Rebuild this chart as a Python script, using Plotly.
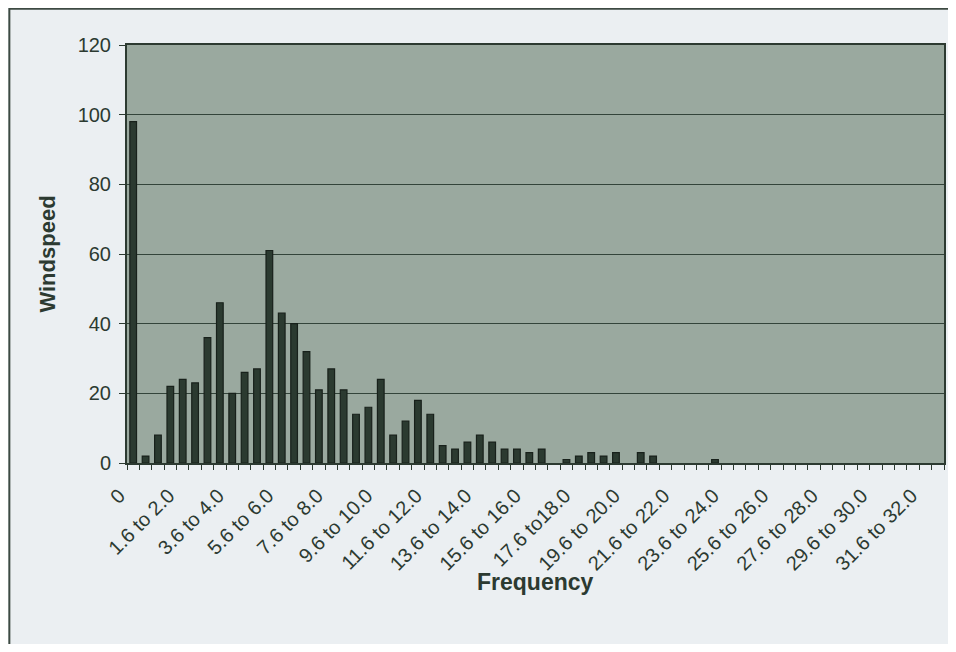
import plotly.graph_objects as go

# wind speed bins (x axis categories)
categories = [
    "0", "0.1 to 0.5", "0.6 to 1.0", "1.1 to 1.5", "1.6 to 2.0",
    "2.1 to 2.5", "2.6 to 3.0", "3.1 to 3.5", "3.6 to 4.0",
    "4.1 to 4.5", "4.6 to 5.0", "5.1 to 5.5", "5.6 to 6.0",
    "6.1 to 6.5", "6.6 to 7.0", "7.1 to 7.5", "7.6 to 8.0",
    "8.1 to 8.5", "8.6 to 9.0", "9.1 to 9.5", "9.6 to 10.0",
    "10.1 to 10.5", "10.6 to 11.0", "11.1 to 11.5", "11.6 to 12.0",
    "12.1 to 12.5", "12.6 to 13.0", "13.1 to 13.5", "13.6 to 14.0",
    "14.1 to 14.5", "14.6 to 15.0", "15.1 to 15.5", "15.6 to 16.0",
    "16.1 to 16.5", "16.6 to 17.0", "17.1 to 17.5", "17.6 to18.0",
    "18.1 to 18.5", "18.6 to 19.0", "19.1 to 19.5", "19.6 to 20.0",
    "20.1 to 20.5", "20.6 to 21.0", "21.1 to 21.5", "21.6 to 22.0",
    "22.1 to 22.5", "22.6 to 23.0", "23.1 to 23.5", "23.6 to 24.0",
    "24.1 to 24.5", "24.6 to 25.0", "25.1 to 25.5", "25.6 to 26.0",
    "26.1 to 26.5", "26.6 to 27.0", "27.1 to 27.5", "27.6 to 28.0",
    "28.1 to 28.5", "28.6 to 29.0", "29.1 to 29.5", "29.6 to 30.0",
    "30.1 to 30.5", "30.6 to 31.0", "31.1 to 31.5", "31.6 to 32.0",
    "32.1 to 32.5",
]

# counts per bin
counts = [
    98, 2, 8, 22, 24, 23, 36, 46, 20, 26, 27, 61, 43, 40, 32, 21,
    27, 21, 14, 16, 24, 8, 12, 18, 14, 5, 4, 6, 8, 6, 4, 4,
    3, 4, 0, 1, 2, 3, 2, 3, 0, 3, 2, 0, 0, 0, 0, 1,
    0, 0, 0, 0, 0, 0, 0, 0, 0, 0, 0, 0, 0, 0, 0, 0,
    0, 0,
]

# only every 4th bin gets a label
shown_labels = [c if i % 4 == 0 else "" for i, c in enumerate(categories)]

INK = "#2c3a31"
FONT = "Liberation Sans, Arial, sans-serif"

fig = go.Figure()
fig.add_trace(
    go.Bar(
        x=categories,
        y=counts,
        marker=dict(
            color="#2b3a30",
            # empty bins should not leave an outline on the baseline
            line=dict(color="#18211b", width=[1.2 if v > 0 else 0 for v in counts]),
        ),
        hoverinfo="x+y",
    )
)

# page body adds an 8px margin, so the figure is 940x636
fig.update_layout(
    width=940,
    height=636,
    margin=dict(l=119, r=2, t=37, b=181),
    paper_bgcolor="#ebeff2",
    plot_bgcolor="#9aa99f",
    bargap=0.46,
    showlegend=False,
    font=dict(family=FONT, color=INK, size=19),
)

fig.update_xaxes(
    type="category",
    tickmode="array",
    tickvals=categories,
    ticktext=shown_labels,
    tickson="boundaries",
    tickangle=-45,
    ticks="outside",
    ticklen=5,
    tickcolor=INK,
    tickfont=dict(size=20),
    ticklabelstandoff=11,
    ticklabelshift=-14,
    showline=True,
    linecolor=INK,
    linewidth=2,
    mirror=True,
    showgrid=False,
)

fig.update_yaxes(
    range=[0, 120],
    dtick=20,
    ticks="outside",
    ticklen=6,
    tickcolor=INK,
    tickfont=dict(size=20),
    ticklabelstandoff=4,
    showline=True,
    linecolor=INK,
    linewidth=2,
    mirror=True,
    showgrid=True,
    gridcolor="#33443a",
    gridwidth=1,
    zeroline=False,
    title=dict(text="<b>Windspeed</b>", font=dict(size=22), standoff=16),
)

# x title sits a bit closer to the rotated labels than plotly allows
fig.add_annotation(
    text="<b>Frequency</b>",
    xref="paper",
    yref="paper",
    x=0.5,
    y=-0.285,
    showarrow=False,
    font=dict(size=23, color=INK),
    xanchor="center",
    yanchor="middle",
)

# outer chart frame (only top and left edges are visible in the scan)
fig.add_shape(
    type="rect",
    xref="paper",
    yref="paper",
    x0=-0.144,
    x1=1.05,
    y0=-0.5,
    y1=1.087,
    line=dict(color="#3d4a42", width=2),
    fillcolor="rgba(0,0,0,0)",
    layer="below",
)

fig.write_html("out.html")
